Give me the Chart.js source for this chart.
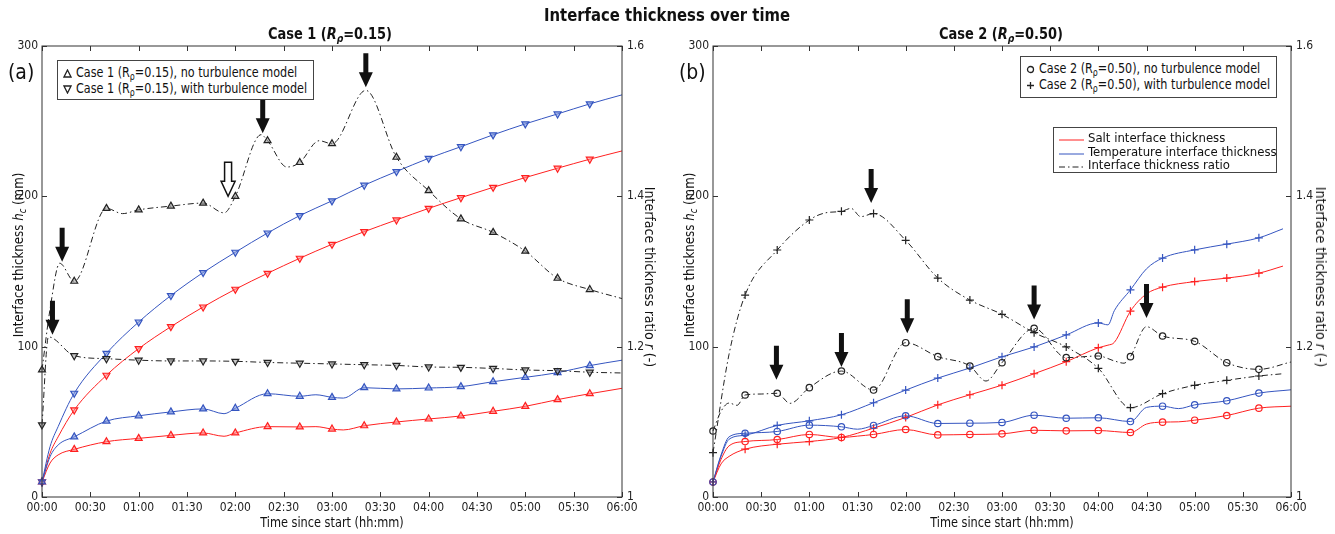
<!DOCTYPE html>
<html>
<head>
<meta charset="utf-8">
<script src="https://cdn.jsdelivr.net/npm/chart.js@4.4.1/dist/chart.umd.min.js"></script>
<style>
  body { margin: 0; background: #fff; }
  #page { position: relative; width: 1335px; height: 534px; overflow: hidden;
          font-family: 'Liberation Sans Narrow', 'DejaVu Sans Condensed', sans-serif; color: #111; }
  .panel { position: absolute; top: 0; width: 668px; height: 534px; }
  .txt { position: absolute; white-space: nowrap; }
  .center { transform: translate(-50%, -50%); }
  sub { font-size: 70%; vertical-align: -0.3em; line-height: 0; }
  .legend { position: absolute; border: 1px solid #444; background: #fff; font-size: 14px;
            line-height: 16px; padding: 3px 5px; box-sizing: border-box; }
  .legend div { white-space: nowrap; }
  .legend svg { vertical-align: -1px; margin-right: 4px; }
  .sx { display: inline-block; transform: scaleX(0.89); transform-origin: 0 50%; }
</style>
</head>
<body>
<div id="page">
  <div class="panel" style="left:0"><canvas id="chartCase1" width="668" height="534"></canvas></div>
  <div class="panel" style="left:667px"><canvas id="chartCase2" width="668" height="534"></canvas></div>

  <div class="txt" style="left:667px; top:15px; font-size:17px; font-weight:bold; transform: translate(-50%,-50%) scaleX(0.97);">Interface thickness over time</div>
  <div class="txt" style="left:330px; top:33px; font-size:16px; font-weight:bold; transform: translate(-50%,-50%) scaleX(0.9);">Case 1 (<i>R</i><sub><i>ρ</i></sub>=0.15)</div>
  <div class="txt" style="left:1001px; top:33px; font-size:16px; font-weight:bold; transform: translate(-50%,-50%) scaleX(0.9);">Case 2 (<i>R</i><sub><i>ρ</i></sub>=0.50)</div>

  <div class="txt" style="left:8px; top:60px; font-size:21px;">(a)</div>
  <div class="txt" style="left:679px; top:60px; font-size:21px;">(b)</div>

  <div class="txt" style="left:18px; top:255px; font-size:14px; transform: translate(-50%,-50%) rotate(-90deg) scaleX(0.94);">Interface thickness <i>h</i><sub><i>c</i></sub> (mm)</div>
  <div class="txt" style="left:650px; top:277px; font-size:14px; transform: translate(-50%,-50%) rotate(90deg);">Interface thickness ratio <i>r</i> (-)</div>
  <div class="txt" style="left:689px; top:255px; font-size:14px; transform: translate(-50%,-50%) rotate(-90deg) scaleX(0.94);">Interface thickness <i>h</i><sub><i>c</i></sub> (mm)</div>
  <div class="txt" style="left:1321px; top:277px; font-size:14px; transform: translate(-50%,-50%) rotate(90deg);">Interface thickness ratio <i>r</i> (-)</div>

  <div class="txt" style="left:332px; top:522px; font-size:14px; transform: translate(-50%,-50%) scaleX(0.9);">Time since start (hh:mm)</div>
  <div class="txt" style="left:1002px; top:522px; font-size:14px; transform: translate(-50%,-50%) scaleX(0.9);">Time since start (hh:mm)</div>

  <div class="legend" style="left:57px; top:60px; width:257px; height:40px;">
    <div><svg width="9" height="9"><polygon points="4.5,1 8,8 1,8" fill="none" stroke="#222" stroke-width="1.3"/></svg><span class="sx">Case 1 (R<sub>ρ</sub>=0.15), no turbulence model</span></div>
    <div><svg width="9" height="9"><polygon points="1,1 8,1 4.5,8" fill="none" stroke="#222" stroke-width="1.3"/></svg><span class="sx">Case 1 (R<sub>ρ</sub>=0.15), with turbulence model</span></div>
  </div>
  <div class="legend" style="left:1020px; top:56px; width:257px; height:42px;">
    <div><svg width="9" height="9"><circle cx="4.5" cy="4.5" r="3" fill="none" stroke="#222" stroke-width="1.3"/></svg><span class="sx">Case 2 (R<sub>ρ</sub>=0.50), no turbulence model</span></div>
    <div><svg width="9" height="9"><path d="M4.5 1 V8 M1 4.5 H8" stroke="#222" stroke-width="1.3"/></svg><span class="sx">Case 2 (R<sub>ρ</sub>=0.50), with turbulence model</span></div>
  </div>
  <div class="legend" style="left:1053px; top:127px; width:224px; height:46px; line-height:13.5px; font-size:13px;">
    <div><svg width="25" height="6"><line x1="0" y1="3" x2="25" y2="3" stroke="#ff2020" stroke-width="1"/></svg>Salt interface thickness</div>
    <div><svg width="25" height="6"><line x1="0" y1="3" x2="25" y2="3" stroke="#3555c0" stroke-width="1"/></svg>Temperature interface thickness</div>
    <div><svg width="25" height="6"><line x1="0" y1="3" x2="25" y2="3" stroke="#222" stroke-width="1" stroke-dasharray="6,3,1.5,3"/></svg>Interface thickness ratio</div>
  </div>
</div>

<script>
// time axis (minutes since start)
const timeTicks = [0, 30, 60, 90, 120, 150, 180, 210, 240, 270, 300, 330, 360];
const timeTickLabels = ['00:00', '00:30', '01:00', '01:30', '02:00', '02:30', '03:00',
                        '03:30', '04:00', '04:30', '05:00', '05:30', '06:00'];

// ---- Case 1 (Rp = 0.15) ----
const c1NoTurbTime = [0, 5, 10, 20, 40, 60, 80, 100, 113, 120, 140, 160, 170, 180, 187, 200, 220, 240, 260, 280, 300, 320, 340, 360];
const c1NoTurbTemp = [10, 26.8, 34.6, 40, 50.5, 54, 56.6, 58.6, 55.4, 59, 68.7, 67, 68, 66.3, 65.8, 72.7, 71.9, 72.5, 73.4, 76.7, 79.6, 82.7, 87.4, 91];
const c1NoTurbSalt = [10, 22.6, 28, 31.7, 36.8, 39, 41, 42.6, 40.4, 42.6, 46.8, 46.6, 46.8, 45.2, 44.6, 47.4, 49.9, 51.9, 53.9, 57, 60.3, 64.8, 68.7, 72.3];

const c1TurbTime = [0, 5, 10, 20, 40, 60, 80, 100, 120, 140, 160, 180, 200, 220, 240, 260, 280, 300, 320, 340, 360];
const c1TurbTemp = [10, 33.5, 46.8, 69, 95.6, 116.4, 134, 149.3, 162.8, 175.6, 187.2, 197, 207.4, 216.5, 225.3, 233, 240.9, 248.2, 254.8, 261.5, 267.5];
const c1TurbSalt = [10, 29, 40, 57.9, 81, 98.7, 113.3, 126.4, 138.2, 148.8, 158.8, 168.1, 176.5, 184.3, 192, 199.1, 206, 212.5, 218.7, 224.7, 230.2];

const c1NoTurbRatioTime = [0, 5, 11, 20, 40, 50, 60, 80, 100, 113, 120, 136, 140, 152, 160, 172, 180, 201, 220, 240, 260, 280, 300, 320, 340, 360];
const c1NoTurbRatio = [1.169, 1.25, 1.311, 1.287, 1.384, 1.377, 1.382, 1.387, 1.391, 1.378, 1.400, 1.482, 1.474, 1.439, 1.445, 1.474, 1.470, 1.541, 1.452, 1.4075, 1.370, 1.352, 1.327, 1.291, 1.276, 1.264];
const c1TurbRatioTime = [0, 4, 20, 40, 60, 80, 100, 120, 140, 160, 180, 200, 220, 240, 260, 280, 300, 320, 340, 360];
const c1TurbRatio = [1.096, 1.213, 1.188, 1.184, 1.182, 1.181, 1.181, 1.1805, 1.179, 1.178, 1.177, 1.176, 1.175, 1.173, 1.1725, 1.171, 1.169, 1.168, 1.166, 1.165];

const c1ArrowTime = [6.5, 12.5, 115.5, 137, 201];
const c1ArrowRatio = [1.216, 1.313, 1.400, 1.484, 1.545];
const c1ArrowHollow = [false, false, true, false, false];

// ---- Case 2 (Rp = 0.50) ----
const c2NoTurbTime = [0, 5, 10, 20, 40, 60, 80, 90, 100, 120, 140, 160, 180, 200, 220, 240, 260, 270, 280, 290, 300, 320, 340, 360];
const c2NoTurbTemp = [10, 28, 40, 42.4, 43.6, 47.8, 46.7, 45.1, 47.6, 54, 48.9, 49.1, 49.6, 54.4, 52.4, 52.7, 50.2, 59.6, 60.4, 58.8, 61.3, 64, 69.1, 71.3];
const c2NoTurbSalt = [10, 25, 34, 36.9, 38.2, 41.6, 39.6, 40.5, 41.6, 44.9, 41.3, 41.6, 42, 44.4, 44, 44.2, 42.9, 48.5, 49.8, 50, 51.1, 54.2, 59.1, 60.4];

const c2TurbTime = [0, 5, 10, 20, 40, 60, 80, 100, 120, 140, 160, 180, 200, 220, 240, 246, 250, 260, 270, 280, 300, 320, 340, 355];
const c2TurbTemp = [10, 27, 38.4, 41.1, 47.6, 50.7, 54.7, 62.7, 71.1, 79.1, 85.8, 93.3, 99.8, 107.8, 115.8, 114.5, 124, 137.8, 151.8, 158.9, 164.4, 168.2, 172.4, 178.4];
const c2TurbSalt = [10, 22, 27, 31.8, 35.1, 36.9, 39.6, 45.8, 52.9, 61.3, 68, 74.4, 82, 90, 99.3, 101, 102.9, 123.6, 135.1, 139.6, 143.3, 145.6, 148.9, 153.6];

const c2NoTurbRatioTime = [0, 5, 10, 15, 20, 30, 40, 48, 60, 80, 100, 120, 140, 160, 170, 180, 200, 220, 240, 250, 256, 260, 270, 280, 300, 320, 340, 360];
const c2NoTurbRatio = [1.0878, 1.114, 1.125, 1.122, 1.1357, 1.137, 1.138, 1.1246, 1.1455, 1.1676, 1.1423, 1.2053, 1.1867, 1.1743, 1.1543, 1.1787, 1.2244, 1.1854, 1.1876, 1.181, 1.178, 1.1867, 1.2266, 1.2142, 1.2071, 1.1787, 1.1698, 1.1796];
const c2TurbRatioTime = [0, 10, 20, 40, 60, 70, 80, 86, 92, 100, 120, 140, 160, 180, 200, 220, 240, 260, 280, 300, 320, 340, 355];
const c2TurbRatio = [1.059, 1.19, 1.2687, 1.3286, 1.3685, 1.378, 1.380, 1.384, 1.373, 1.377, 1.3415, 1.2913, 1.262, 1.243, 1.2186, 1.1996, 1.1712, 1.1188, 1.1375, 1.1486, 1.1552, 1.161, 1.164];

const c2ArrowTime = [39.5, 80, 98.5, 121, 200, 270];
const c2ArrowRatio = [1.156, 1.173, 1.391, 1.218, 1.236, 1.238];
const c2ArrowHollow = [false, false, false, false, false, false];

const RED = '#ff2020';
const BLUE = '#3555c0';
const BLACK = '#222';
const TICK_FONT = { family: "'Liberation Sans Narrow', 'DejaVu Sans Condensed', sans-serif", size: 12 };

// marker every 20 minutes, plain line elsewhere
function markerRadius(times, r) {
    return times.map(t => (t % 20 === 0 && t < 360) ? r : 0);
}

function series(times, values, color, marker, axis, dashed) {
    return {
        data: times.map((t, i) => ({ x: t, y: values[i] })),
        yAxisID: axis,
        borderColor: color,
        borderWidth: 1,
        borderDash: dashed ? [6, 3, 1.5, 3] : [],
        cubicInterpolationMode: 'monotone',
        pointStyle: marker.style,
        pointRotation: marker.rotation || 0,
        pointRadius: markerRadius(times, marker.radius),
        pointBorderColor: color,
        pointBorderWidth: 1.2,
        pointBackgroundColor: marker.fill || 'rgba(255,255,255,0)',
        clip: false,
    };
}

const UP = { style: 'triangle', radius: 4 };
const DOWN = { style: 'triangle', rotation: 180, radius: 4 };
const CIRCLE = { style: 'circle', radius: 3.2 };
const PLUS = { style: 'cross', radius: 4 };

// MATLAB-style box with inward ticks
const matlabBox = {
    id: 'matlabBox',
    afterDraw(chart) {
        const { ctx, chartArea: a, scales } = chart;
        const len = 5;
        ctx.save();
        ctx.strokeStyle = '#333';
        ctx.lineWidth = 1;
        ctx.strokeRect(a.left, a.top, a.right - a.left, a.bottom - a.top);
        ctx.beginPath();
        scales.x.ticks.forEach(t => {
            const px = Math.round(scales.x.getPixelForValue(t.value)) + 0.5;
            ctx.moveTo(px, a.bottom); ctx.lineTo(px, a.bottom - len);
            ctx.moveTo(px, a.top); ctx.lineTo(px, a.top + len);
        });
        scales.y.ticks.forEach(t => {
            const py = Math.round(scales.y.getPixelForValue(t.value)) + 0.5;
            ctx.moveTo(a.left, py); ctx.lineTo(a.left + len, py);
        });
        scales.y1.ticks.forEach(t => {
            const py = Math.round(scales.y1.getPixelForValue(t.value)) + 0.5;
            ctx.moveTo(a.right, py); ctx.lineTo(a.right - len, py);
        });
        ctx.stroke();
        ctx.restore();
    }
};

// down arrows pointing at features of the ratio curves
function arrowPlugin(times, ratios, hollow) {
    return {
        id: 'arrowMarks',
        afterDatasetsDraw(chart) {
            const { ctx, scales } = chart;
            times.forEach((t, i) => {
                const x = scales.x.getPixelForValue(t);
                const tip = scales.y1.getPixelForValue(ratios[i]);
                const len = 34, headLen = 15, headHalf = 7;
                const shaft = hollow[i] ? 3.5 : 2.5;
                ctx.save();
                ctx.beginPath();
                ctx.moveTo(x - shaft, tip - len);
                ctx.lineTo(x + shaft, tip - len);
                ctx.lineTo(x + shaft, tip - headLen);
                ctx.lineTo(x + headHalf, tip - headLen);
                ctx.lineTo(x, tip);
                ctx.lineTo(x - headHalf, tip - headLen);
                ctx.lineTo(x - shaft, tip - headLen);
                ctx.closePath();
                if (hollow[i]) {
                    ctx.fillStyle = '#fff';
                    ctx.fill();
                    ctx.strokeStyle = '#111';
                    ctx.lineWidth = 1.5;
                    ctx.stroke();
                } else {
                    ctx.fillStyle = '#111';
                    ctx.fill();
                }
                ctx.restore();
            });
        }
    };
}

function makeChart(canvasId, datasets, leftWidth, rightWidth, arrows) {
    return new Chart(document.getElementById(canvasId), {
        type: 'line',
        data: { datasets },
        options: {
            responsive: false,
            animation: false,
            layout: { padding: { top: 46, left: 0, right: 0, bottom: 0 } },
            plugins: { legend: { display: false }, tooltip: { enabled: false } },
            scales: {
                x: {
                    type: 'linear', min: 0, max: 360,
                    afterBuildTicks: s => { s.ticks = timeTicks.map(v => ({ value: v })); },
                    afterFit: s => { s.height = 37; },
                    grid: { display: false, drawTicks: false },
                    border: { display: false },
                    ticks: {
                        autoSkip: false, maxRotation: 0, padding: 4, color: '#222', font: TICK_FONT,
                        callback: v => timeTickLabels[timeTicks.indexOf(v)]
                    }
                },
                y: {
                    position: 'left', min: 0, max: 300,
                    afterFit: s => { s.width = leftWidth; },
                    grid: { display: false, drawTicks: false },
                    border: { display: false },
                    ticks: { stepSize: 100, padding: 4, color: '#222', font: TICK_FONT }
                },
                y1: {
                    position: 'right', min: 1, max: 1.6,
                    afterFit: s => { s.width = rightWidth; },
                    grid: { display: false, drawTicks: false },
                    border: { display: false },
                    ticks: {
                        stepSize: 0.2, padding: 5, color: '#222', font: TICK_FONT,
                        callback: v => String(Number(v.toFixed(1)))
                    }
                }
            }
        },
        plugins: [matlabBox, arrowPlugin(arrows.times, arrows.ratios, arrows.hollow)]
    });
}

const TRI_FILL_BLUE = 'rgba(120,145,220,0.55)';
const TRI_FILL_RED = 'rgba(255,130,130,0.55)';
const TRI_FILL_GRAY = 'rgba(150,150,150,0.55)';

makeChart('chartCase1', [
    series(c1NoTurbRatioTime, c1NoTurbRatio, BLACK, { ...UP, fill: TRI_FILL_GRAY }, 'y1', true),
    series(c1TurbRatioTime, c1TurbRatio, BLACK, { ...DOWN, fill: TRI_FILL_GRAY }, 'y1', true),
    series(c1NoTurbTime, c1NoTurbTemp, BLUE, { ...UP, fill: TRI_FILL_BLUE }, 'y', false),
    series(c1NoTurbTime, c1NoTurbSalt, RED, { ...UP, fill: TRI_FILL_RED }, 'y', false),
    series(c1TurbTime, c1TurbTemp, BLUE, { ...DOWN, fill: TRI_FILL_BLUE }, 'y', false),
    series(c1TurbTime, c1TurbSalt, RED, { ...DOWN, fill: TRI_FILL_RED }, 'y', false),
], 42, 46, { times: c1ArrowTime, ratios: c1ArrowRatio, hollow: c1ArrowHollow });

makeChart('chartCase2', [
    series(c2NoTurbRatioTime, c2NoTurbRatio, BLACK, CIRCLE, 'y1', true),
    series(c2TurbRatioTime, c2TurbRatio, BLACK, PLUS, 'y1', true),
    series(c2NoTurbTime, c2NoTurbTemp, BLUE, CIRCLE, 'y', false),
    series(c2NoTurbTime, c2NoTurbSalt, RED, CIRCLE, 'y', false),
    series(c2TurbTime, c2TurbTemp, BLUE, PLUS, 'y', false),
    series(c2TurbTime, c2TurbSalt, RED, PLUS, 'y', false),
], 46, 44, { times: c2ArrowTime, ratios: c2ArrowRatio, hollow: c2ArrowHollow });
</script>
</body>
</html>
